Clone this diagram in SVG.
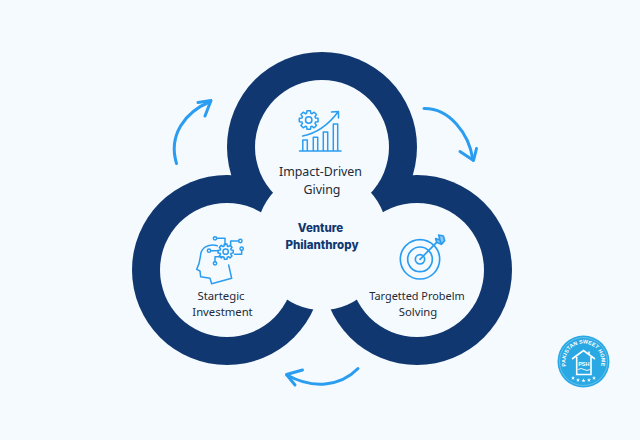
<svg xmlns="http://www.w3.org/2000/svg" width="640" height="440" viewBox="0 0 640 440">
<style>
.bg{fill:#f5faff}
.dark{fill:#10376f}
.arrow{fill:none;stroke:#2a9df0;stroke-width:3;stroke-linecap:round;stroke-linejoin:round}
.icon{fill:none;stroke:#2a9df0;stroke-width:1.5;stroke-linejoin:round;stroke-linecap:round}
.label{font-family:"Noto Sans","Liberation Sans",sans-serif;font-size:11.300px;fill:#222b36;text-anchor:middle}
.big{font-size:12.400px}
.title{font-family:"Inter","Liberation Sans",sans-serif;font-weight:800;font-size:11.500px;fill:#10376f;text-anchor:middle}
.logo{font-family:"Liberation Sans",sans-serif;font-weight:700;fill:#fff}
</style>
<defs>
<path id="gear" d="M7.17-2.19L9.85-1.74 9.85 1.74 7.17 2.19 6.62 3.52 8.19 5.74 5.74 8.19 3.52 6.62 2.19 7.17 1.74 9.85-1.74 9.85-2.19 7.17-3.52 6.62-5.74 8.19-8.19 5.74-6.62 3.52-7.17 2.19-9.85 1.74-9.85-1.74-7.17-2.19-6.62-3.52-8.19-5.74-5.74-8.19-3.52-6.62-2.19-7.17-1.74-9.85 1.74-9.85 2.19-7.17 3.52-6.62 5.74-8.19 8.19-5.74 6.62-3.52Z"/>
<polygon id="star" points="0,-2 .6,-.6 2,-.6 .9,.3 1.3,1.8 0,.9 -1.3,1.8 -.9,.3 -2,-.6 -.6,-.6"/>
<path id="logoArc" d="M566 365.700A18 18 0 1 1 601 365.700"/>
</defs>
<rect width="640" height="440" class="bg"/>
<g id="rings">
<circle class="dark" cx="322" cy="147" r="95"/>
<circle class="dark" cx="227" cy="270" r="95"/>
<circle class="dark" cx="417" cy="270" r="95"/>
<circle class="bg" cx="322" cy="147" r="67"/>
<circle class="bg" cx="227" cy="270" r="67"/>
<circle class="bg" cx="417" cy="270" r="67"/>
<ellipse class="bg" cx="322" cy="240" rx="66.500" ry="70"/>
</g>
<g id="connectors">
<path class="arrow" d="M176.500 163.500C168 135 185 112 210.500 101.500"/>
<path class="arrow" d="M198 102.500L211 100.500 205 116"/>
<path class="arrow" d="M424 108.500C449 108 469 133 473 160"/>
<path class="arrow" d="M460 151.500L473.500 160.500 476.500 148.500"/>
<path class="arrow" d="M358 368.500C340 387 312 389 287 375"/>
<path class="arrow" d="M302.500 370L286.500 374.500 295 385"/>
</g>
<g id="node-impact">
<use href="#gear" class="icon" transform="translate(308.700 120) scale(.95)" style="stroke-width:1.600"/>
<circle class="icon" cx="308.700" cy="120" r="3.200"/>
<path class="icon" d="M299.500 151H341M302.800 151V140H307.300V151M313.300 151V137.300H317.700V151M323.300 151V132H327.700V151M333.300 151V124H337.700V151"/>
<path class="icon" d="M302.700 136C318 133 329 124 338 112M331.500 112L338.500 111.500 338.500 118"/>
<text class="label big" x="320.500" y="176">Impact-Driven</text>
<text class="label big" x="322" y="194">Giving</text>
</g>
<g id="node-center">
<text class="title" x="320.500" y="231.500">Venture</text>
<text class="title" x="322" y="249">Philanthropy</text>
</g>
<g id="node-investment">
<g transform="translate(180 225) scale(.3333)" class="icon" style="stroke-width:4.500">
<path d="M112 62C85 55 65 68 62 88 60 102 60 115 50 133L60 138 62 155 90 160 95 176 155 160 146 120"/>
<use href="#gear" transform="translate(137 80) scale(2.300)" style="stroke-width:2"/>
<circle cx="137" cy="80" r="8"/>
<circle cx="105" cy="40" r="5"/><path d="M110 40H135V60"/>
<circle cx="181" cy="48" r="5"/><path d="M176 48H152V62"/>
<circle cx="185" cy="71" r="5"/><path d="M185 76V88H164"/>
<circle cx="87" cy="77" r="5"/><path d="M92 77H115"/>
<circle cx="105" cy="115" r="5"/><path d="M105 110V95H124"/>
</g>
<text class="label" x="221" y="300">Startegic</text>
<text class="label" x="222.500" y="316">Investment</text>
</g>
<g id="node-problem">
<g transform="translate(390 225) scale(.3333)" class="icon" style="stroke-width:5">
<circle cx="90" cy="103" r="59"/>
<circle cx="90" cy="103" r="37"/>
<circle cx="90" cy="103" r="14"/>
<path d="M90 103L140 52"/>
<path d="M137 41L150 45 154 58 140 52ZM146 30L160 33 164 47 154 58 150 45Z" style="fill:#8fcaf6"/>
</g>
<text class="label" x="417" y="300" style="font-size:10.900px">Targetted Probelm</text>
<text class="label" x="418" y="316">Solving</text>
</g>
<g id="logo">
<circle cx="583.500" cy="361.500" r="26" fill="#29a8e4"/>
<circle cx="583.500" cy="361.500" r="24" fill="none" stroke="#fff" stroke-opacity=".4" stroke-width=".7"/>
<text class="logo" font-size="5.400" text-anchor="middle"><textPath href="#logoArc" startOffset="50%">PAKISTAN SWEET HOME</textPath></text>
<path d="M572 359L583.500 350.500 595 359M576.700 357V374.500H591V357M589 354V351.500" fill="none" stroke="#fff" stroke-width="1.600"/>
<path d="M578 369.500q3 -2 6 0t6 0" fill="none" stroke="#fff" stroke-width=".9"/>
<text class="logo" x="583.800" y="365.500" font-size="5.500" text-anchor="middle">PSH</text>
<g fill="#fff">
<use href="#star" x="573" y="378"/><use href="#star" x="578" y="380"/><use href="#star" x="583.500" y="380.500"/><use href="#star" x="589" y="380"/><use href="#star" x="594" y="378"/>
</g>
</g>
</svg>
